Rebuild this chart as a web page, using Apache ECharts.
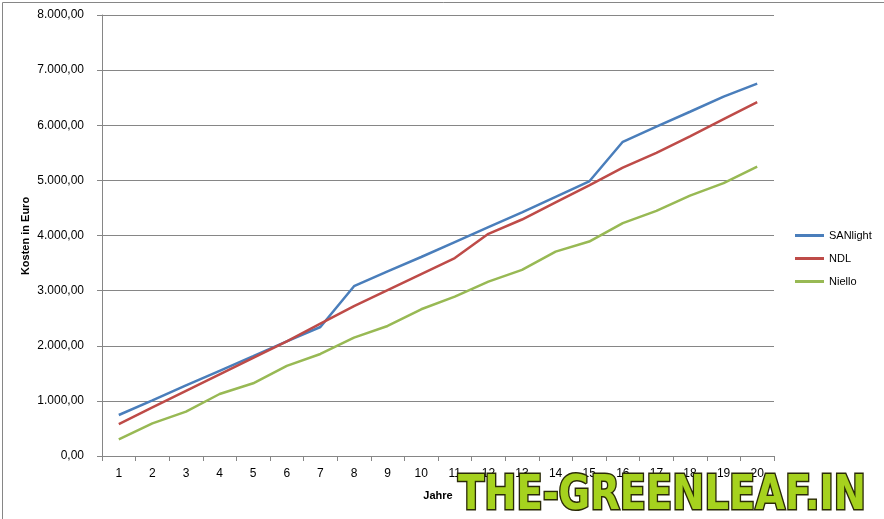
<!DOCTYPE html>
<html><head><meta charset="utf-8">
<script src="https://cdn.jsdelivr.net/npm/echarts@6/dist/echarts.min.js"></script>
<style>html,body{margin:0;padding:0;background:#fff}#c{width:884px;height:519px}</style>
</head><body><div id="c"></div>
<script>
const years = ['1','2','3','4','5','6','7','8','9','10','11','12','13','14','15','16','17','18','19','20'];
const sanlight = [744,1010,1280,1545,1810,2080,2340,3080,3350,3610,3880,4150,4420,4700,4980,5700,5975,6245,6520,6755];
const ndl = [580,880,1180,1480,1780,2080,2400,2720,3010,3300,3590,4030,4290,4600,4910,5230,5500,5800,6110,6420];
const niello = [303,593,804,1125,1319,1635,1851,2147,2359,2662,2891,3163,3376,3708,3890,4225,4446,4724,4949,5250];
const seriesNames = ['SANlight','NDL','Niello'];
const yAxisTitle = 'Kosten in Euro';
const colors = ['#4A7EBB','#BE4B48','#98B954'];
const FONT = 'Liberation Sans';

const fmt = v => {
  const s = Math.round(v).toString().replace(/\B(?=(\d{3})+(?!\d))/g, '.');
  return s + ',00';
};

const chart = echarts.init(document.getElementById('c'), null, {renderer:'canvas'});
chart.setOption({
  animation:false,
  backgroundColor:'#fff',
  textStyle:{fontFamily:FONT},
  grid:{left:102,right:110,top:15,bottom:63,containLabel:false},
  legend:{
    orient:'vertical', left:790, top:225, itemWidth:29, itemHeight:3, itemGap:12,
    icon:'rect',
    textStyle:{fontFamily:FONT,fontSize:11,color:'#000'},
    data:seriesNames
  },
  xAxis:{
    type:'category', data:years, boundaryGap:true,
    name:'Jahre', nameLocation:'middle', nameGap:34,
    nameTextStyle:{fontFamily:FONT,fontSize:11,fontWeight:'bold',color:'#000'},
    axisLine:{lineStyle:{color:'#868686',width:1}},
    axisTick:{show:true,alignWithLabel:false,length:5,lineStyle:{color:'#868686'}},
    axisLabel:{fontFamily:FONT,fontSize:12,color:'#000',margin:12,interval:0},
    splitLine:{show:false}
  },
  yAxis:{
    type:'value', min:0, max:8000, interval:1000,
    axisLine:{show:true,lineStyle:{color:'#868686',width:1}},
    axisTick:{show:true,length:5,lineStyle:{color:'#868686'}},
    axisLabel:{fontFamily:FONT,fontSize:12,color:'#000',margin:18,formatter:fmt},
    splitLine:{show:true,lineStyle:{color:'#868686',width:1}}
  },
  series:[
    {name:seriesNames[0],type:'line',data:sanlight,showSymbol:false,symbol:'none',lineStyle:{width:2.5,color:colors[0]},itemStyle:{color:colors[0]}},
    {name:seriesNames[1],type:'line',data:ndl,showSymbol:false,symbol:'none',lineStyle:{width:2.5,color:colors[1]},itemStyle:{color:colors[1]}},
    {name:seriesNames[2],type:'line',data:niello,showSymbol:false,symbol:'none',lineStyle:{width:2.5,color:colors[2]},itemStyle:{color:colors[2]}}
  ],
  graphic:[
    {type:'rect',left:0,top:0,shape:{width:883,height:517},style:{fill:'none',stroke:'#868686',lineWidth:1},z:-1,silent:true},
    {type:'text',x:26,y:236,rotation:Math.PI/2,z:50,style:{text:yAxisTitle,fontFamily:FONT,fontWeight:'bold',fontSize:11,fill:'#000',align:'center',verticalAlign:'middle'}},
    {type:'text',x:458,y:473,scaleX:0.89,z:100,style:{text:'THE-GREENLEAF.IN',fontFamily:'DejaVu Sans Condensed',fontWeight:'bold',fontSize:48,verticalAlign:'top',fill:'#A6D21E',stroke:'#2a2a08',lineWidth:3,shadowColor:'rgba(0,0,0,0.5)',shadowBlur:4}}
  ]
});
</script></body></html>
